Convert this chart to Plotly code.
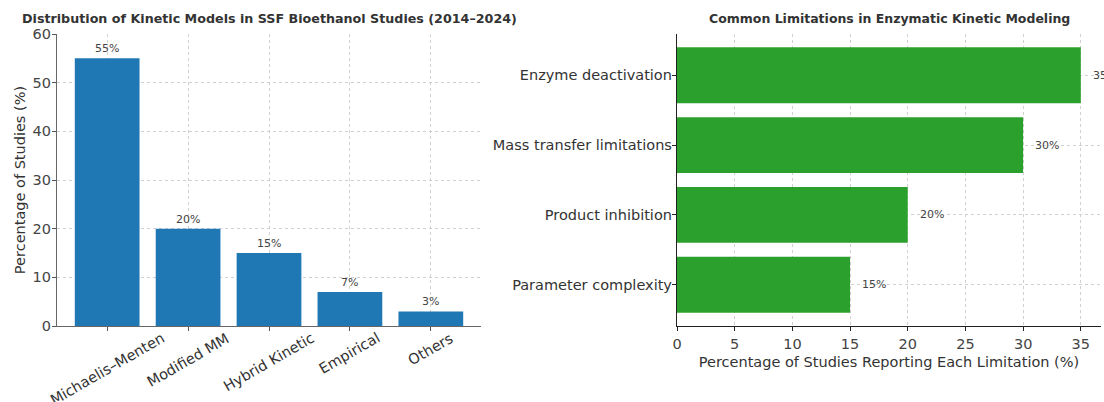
import plotly.graph_objects as go

models = ["Michaelis–Menten", "Modified MM", "Hybrid Kinetic", "Empirical", "Others"]
model_pct = [55, 20, 15, 7, 3]

limitations = ["Parameter complexity", "Product inhibition", "Mass transfer limitations", "Enzyme deactivation"]
limit_pct = [15, 20, 30, 35]

W, H = 1104, 402
FONT = "DejaVu Sans"
L0, L1 = 57 / W, 481 / W
R0, R1 = 677 / W, 1101 / W

fig = go.Figure()
fig.add_trace(go.Bar(x=list(range(len(models))), y=model_pct, marker_color="#1f77b4",
                     marker_line_width=0, width=0.8, xaxis="x", yaxis="y", showlegend=False))
fig.add_trace(go.Bar(y=list(range(len(limitations))), x=limit_pct, orientation="h",
                     marker_color="#2ca02c", marker_line_width=0, width=0.8,
                     xaxis="x2", yaxis="y2", showlegend=False))

grid = dict(showgrid=True, gridcolor="#d0d0d0", griddash="dot", gridwidth=1, layer="above traces",
            automargin=False)

fig.update_layout(
    width=W, height=H, margin=dict(l=0, r=0, t=34, b=76, autoexpand=False),
    plot_bgcolor="white", paper_bgcolor="white",
    font=dict(family=FONT, color="#333333"),
    xaxis=dict(domain=[L0, L1], range=[-0.62, len(models) - 1 + 0.62],
               tickvals=list(range(len(models))), ticktext=[""] * len(models),
               ticks="outside", ticklen=4, tickcolor="#555", showline=True, linecolor="#666",
               linewidth=1.3, zeroline=False, **grid),
    yaxis=dict(domain=[0, 1], range=[0, 60], dtick=10, ticks="outside", ticklen=4, tickcolor="#555",
               showline=True, linecolor="#666", linewidth=1.3, zeroline=False,
               tickfont=dict(size=14.5, color="#444"), ticklabelstandoff=-2,
               title=dict(text="Percentage of Studies (%)", font=dict(size=14.5, color="#333"), standoff=3),
               **grid),
    xaxis2=dict(domain=[R0, R1], range=[0, 36.75], dtick=5, ticks="outside", ticklen=4, tickcolor="#222",
                showline=True, linecolor="#222", linewidth=1.3, zeroline=False, anchor="y2",
                tickfont=dict(size=14.5, color="#444"),
                title=dict(text="Percentage of Studies Reporting Each Limitation (%)",
                           font=dict(size=14.5, color="#333"), standoff=6),
                **grid),
    yaxis2=dict(domain=[0, 1], range=[-0.59, len(limitations) - 1 + 0.59], anchor="x2",
                tickvals=list(range(len(limitations))), ticktext=limitations,
                ticks="outside", ticklen=4, tickcolor="#222", showline=True, linecolor="#222",
                linewidth=1.3, zeroline=False, tickfont=dict(size=14.5, color="#333"),
                ticklabelstandoff=-3, **grid),
    bargap=0.2,
)

ann = []
# rotated category labels (centered under ticks)
for i, m in enumerate(models):
    ann.append(dict(x=i, xref="x", y=0, yref="paper", yshift=-1, text=m, showarrow=False,
                    textangle=-30, xanchor="center", yanchor="top",
                    font=dict(family=FONT, size=14.5, color="#333")))
for i, v in enumerate(model_pct):
    ann.append(dict(x=i, xref="x", y=v, yref="y", yshift=1, text=f"{v}%", showarrow=False,
                    xanchor="center", yanchor="bottom", font=dict(family=FONT, size=11, color="#444")))
for i, v in enumerate(limit_pct):
    ann.append(dict(x=v, xref="x2", y=i, yref="y2", xshift=10, text=f"{v}%", showarrow=False,
                    xanchor="left", yanchor="middle", font=dict(family=FONT, size=11, color="#444")))
ann.append(dict(x=(L0 + L1) / 2, xref="paper", y=1, yref="paper", yshift=6, showarrow=False,
                text="<b>Distribution of Kinetic Models in SSF Bioethanol Studies (2014–2024)</b>",
                xanchor="center", yanchor="bottom", font=dict(family=FONT, size=12.7, color="#333")))
ann.append(dict(x=(R0 + R1) / 2, xref="paper", y=1, yref="paper", yshift=6, showarrow=False,
                text="<b>Common Limitations in Enzymatic Kinetic Modeling</b>",
                xanchor="center", yanchor="bottom", font=dict(family=FONT, size=12.5, color="#333")))
fig.update_layout(annotations=ann)

fig.write_html("out.html", config={"displayModeBar": False})

# remove the default page margin so the figure sits at the top-left corner
with open("out.html", "r", encoding="utf-8") as f:
    html = f.read()
html = html.replace("<head>", "<head><style>html,body{margin:0;padding:0;overflow:hidden;}</style>", 1)
with open("out.html", "w", encoding="utf-8") as f:
    f.write(html)
